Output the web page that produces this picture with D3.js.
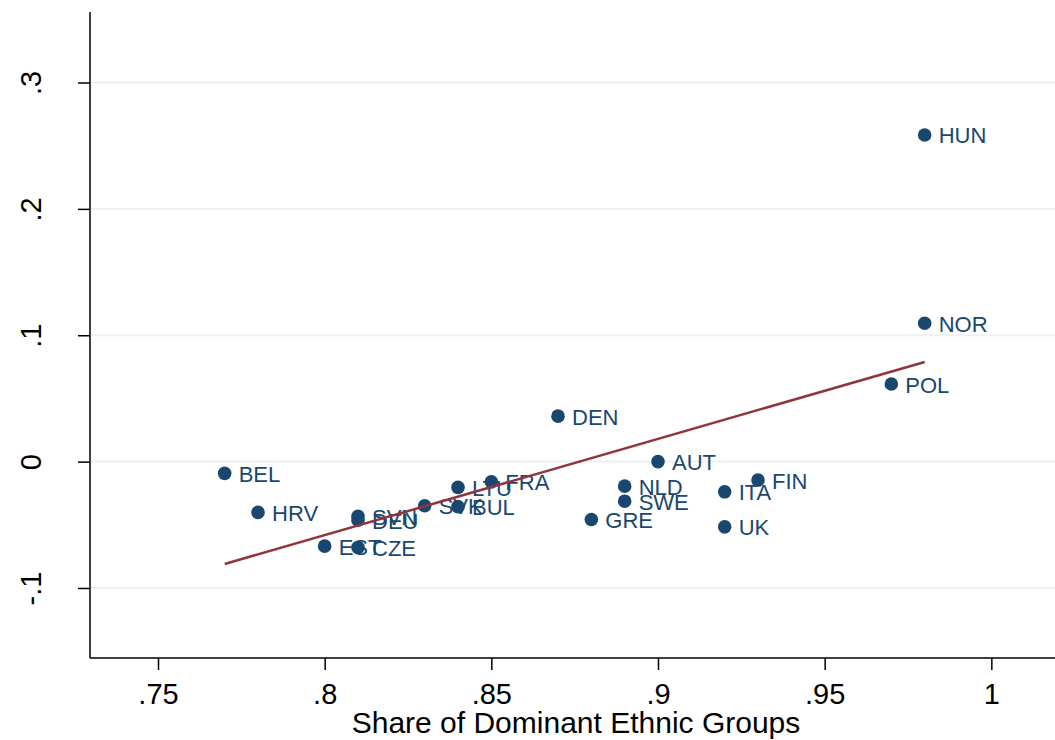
<!DOCTYPE html>
<html>
<head>
<meta charset="utf-8">
<script src="https://cdn.jsdelivr.net/npm/d3@7"></script>
<style>
  body { margin: 0; background: #fff; }
  text { font-family: "Liberation Sans", Arial, sans-serif; }
</style>
</head>
<body>
<div class="d3"></div>
<script>
const countries = ["BEL","HRV","SVN","DEU","EST","CZE","SVK","LTU","BUL","FRA","DEN","GRE","NLD","SWE","AUT","ITA","UK","FIN","POL","HUN","NOR"];
const shareDominant = [0.77,0.78,0.81,0.81,0.80,0.81,0.83,0.84,0.84,0.85,0.87,0.88,0.89,0.89,0.90,0.92,0.92,0.93,0.97,0.98,0.98];
const outcome = [-0.0093,-0.0402,-0.0432,-0.0464,-0.0669,-0.0679,-0.0349,-0.0204,-0.0356,-0.0160,0.0360,-0.0458,-0.0194,-0.0313,0.0000,-0.0239,-0.0516,-0.0146,0.0614,0.2585,0.1095];
const xTicks = [0.75,0.8,0.85,0.9,0.95,1];
const xTickLabels = [".75",".8",".85",".9",".95","1"];
const yTicks = [-0.1,0,0.1,0.2,0.3];
const yTickLabels = ["-.1","0",".1",".2",".3"];

function main() {
    const width = 1055, height = 740;
    const left = 90, right = 1055, top = 12, bottom = 658;

    const svg = d3.select(".d3").append("svg")
        .attr("width", width)
        .attr("height", height);

    const x = d3.scaleLinear().domain([0.7296, 1.0191]).range([left, right]);
    const y = d3.scaleLinear().domain([-0.1554, 0.3558]).range([bottom, top]);

    // grid
    svg.append("g").selectAll("line")
        .data(yTicks).enter().append("line")
        .attr("x1", left).attr("x2", right)
        .attr("y1", d => y(d)).attr("y2", d => y(d))
        .attr("stroke", "#eaf2f3").attr("stroke-width", 2);

    // axes
    const yAxis = d3.axisLeft(y).tickValues(yTicks)
        .tickFormat((d, i) => yTickLabels[i]).tickSizeOuter(0).tickSize(12);
    const gy = svg.append("g").attr("transform", "translate(" + left + ",0)").call(yAxis);
    gy.selectAll("text")
        .attr("transform", "rotate(-90)")
        .attr("x", 0).attr("y", -49).attr("dy", 0)
        .attr("text-anchor", "middle")
        .style("font-size", "29px").attr("fill", "#000");

    const xAxis = d3.axisBottom(x).tickValues(xTicks)
        .tickFormat((d, i) => xTickLabels[i]).tickSizeOuter(0).tickSize(12);
    const gx = svg.append("g").attr("transform", "translate(0," + bottom + ")").call(xAxis);
    gx.selectAll("text")
        .attr("y", 46).attr("dy", 0)
        .style("font-size", "29px").attr("fill", "#000");

    svg.selectAll(".domain").attr("stroke", "#000").attr("stroke-width", 1.5);
    svg.selectAll(".tick line").attr("stroke", "#000").attr("stroke-width", 1.5);
    // the y axis line starts at the top of the region
    gy.select(".domain").attr("d", "M0," + top + "V" + bottom);
    gx.select(".domain").attr("d", "M" + left + ",0H" + right);

    svg.append("text")
        .attr("x", 576).attr("y", 733)
        .attr("text-anchor", "middle")
        .style("font-size", "30px")
        .text("Share of Dominant Ethnic Groups");

    // points
    const data = countries.map((c, i) => ({ c: c, x: shareDominant[i], y: outcome[i] }));
    svg.append("g").selectAll("circle")
        .data(data).enter().append("circle")
        .attr("cx", d => x(d.x)).attr("cy", d => y(d.y))
        .attr("r", 6.8).attr("fill", "#1a476f");
    svg.append("g").selectAll("text")
        .data(data).enter().append("text")
        .attr("x", d => x(d.x) + 14).attr("y", d => y(d.y) + 8.5)
        .style("font-size", "22px").attr("fill", "#1a476f")
        .text(d => d.c);

    // linear fit
    const mx = d3.mean(shareDominant), my = d3.mean(outcome);
    let sxy = 0, sxx = 0;
    data.forEach(d => { sxy += (d.x - mx) * (d.y - my); sxx += (d.x - mx) * (d.x - mx); });
    const b = sxy / sxx, a = my - b * mx;
    const ext = d3.extent(shareDominant);
    const line = d3.line().x(d => x(d)).y(d => y(a + b * d));
    svg.append("path")
        .attr("d", line(ext))
        .attr("fill", "none")
        .attr("stroke", "#90353b").attr("stroke-width", 2.5);
}
main();
</script>
</body>
</html>
